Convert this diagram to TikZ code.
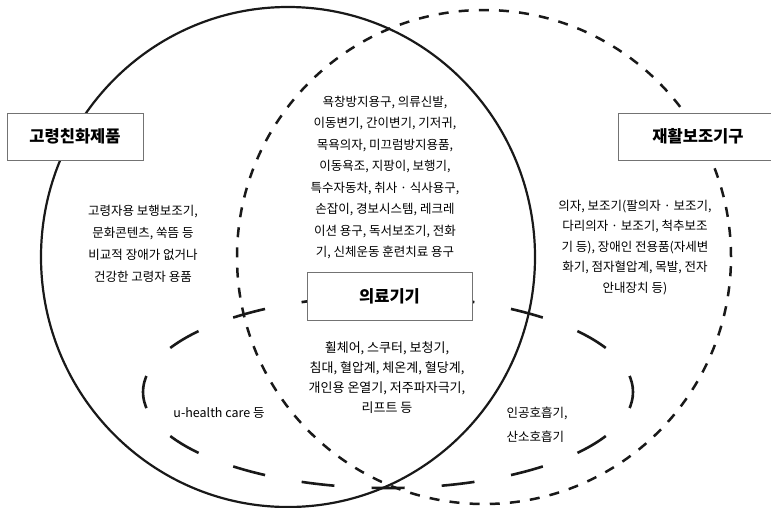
\documentclass[tikz,border=0pt]{standalone}
\usepackage{fontspec}
\setmainfont{Noto Sans CJK KR}
\begin{document}
\begin{tikzpicture}[x=1pt,y=-1pt,
  solidring/.style={draw=black!90, line width=2.2pt},
  shortring/.style={draw=black!90, line width=2.5pt, dash pattern=on 10pt off 10.17pt},
  longring/.style={draw=black!90, line width=2.6pt, dash pattern=on 33pt off 37.2pt, dash phase=16.5pt},
  labelbox/.style={draw=black!55, line width=0.7pt, fill=white, inner sep=0pt,
    font=\bfseries\fontsize{16.5}{20}\selectfont, text=black},
  body/.style={align=center, inner sep=0pt, font=\fontsize{12.5}{21.5}\selectfont, text=black}
]
\useasboundingbox (0,0) rectangle (771,507);
\clip (0,0) rectangle (771,507);
\fill[white] (0,0) rectangle (771,507);

\coordinate (cL) at (288,257);
\coordinate (cR) at (484,257);
\coordinate (cM) at (388,392);

\draw[solidring] (cL) ellipse [x radius=247pt, y radius=250pt];
\draw[shortring] (cR) circle [radius=247pt];
\draw[longring] (cM) ellipse [x radius=245pt, y radius=96pt];

\node[labelbox, minimum width=136pt, minimum height=47pt] (bL) at (75,136.5) {고령친화제품};
\node[labelbox, minimum width=160pt, minimum height=47pt] (bR) at (698,136.5) {재활보조기구};
\node[labelbox, minimum width=165pt, minimum height=48pt] (bM) at (389.5,296) {의료기기};

\node[body] (tC) at (385,177.5) {욕창방지용구, 의류신발,\\이동변기, 간이변기, 기저귀,\\목욕의자, 미끄럼방지용품,\\이동욕조, 지팡이, 보행기,\\특수자동차, 취사 · 식사용구,\\손잡이, 경보시스템, 레크레\\이션 용구, 독서보조기, 전화\\기, 신체운동 훈련치료 용구};

\node[body, font=\fontsize{12.5}{22}\selectfont] (tL) at (143,243.5) {고령자용 보행보조기,\\문화콘텐츠, 쑥뜸 등\\비교적 장애가 없거나\\건강한 고령자 용품};

\node[body, font=\fontsize{12.5}{20.5}\selectfont] (tR) at (635,247.5) {의자, 보조기(팔의자 · 보조기,\\다리의자 · 보조기, 척추보조\\기 등), 장애인 전용품(자세변\\화기, 점자혈압계, 목발, 전자\\안내장치 등)};

\node[body, font=\fontsize{13}{20}\selectfont] (tM) at (387,378) {휠체어, 스쿠터, 보청기,\\침대, 혈압계, 체온계, 혈당계,\\개인용 온열기, 저주파자극기,\\리프트 등};

\node[body] (tU) at (219,413) {u-health care 등};
\node[body, align=left, font=\fontsize{12.5}{24}\selectfont] (tV) at (537,425) {인공호흡기,\\산소호흡기};
\end{tikzpicture}
\end{document}
